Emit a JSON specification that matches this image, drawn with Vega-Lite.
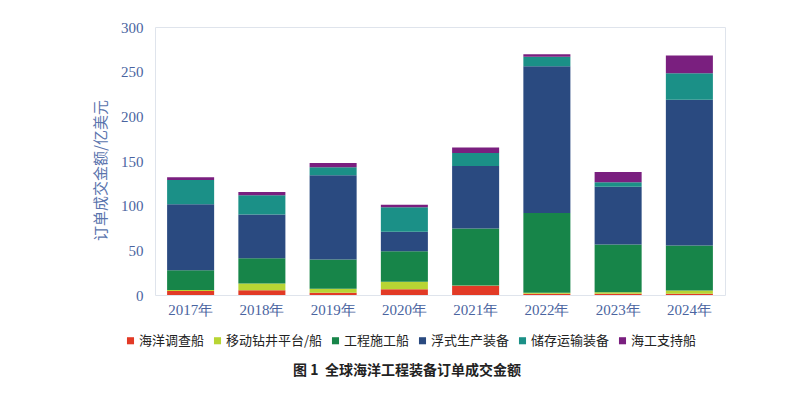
{
  "$schema": "https://vega.github.io/schema/vega-lite/v6.json",
  "width": 570,
  "height": 268,
  "autosize": {"type": "none"},
  "padding": {"left": 155, "top": 27, "right": 82, "bottom": 102},
  "background": "white",
  "config": {
    "view": {"stroke": "#dfe4ec", "strokeWidth": 1},
    "font": "Noto Sans CJK SC"
  },
  "title": {
    "text": "图 1\u00a0\u00a0全球海洋工程装备订单成交金额",
    "orient": "bottom",
    "anchor": "middle",
    "offset": 16,
    "dx": -33,
    "fontSize": 14,
    "fontWeight": "bold",
    "font": "Noto Sans CJK SC",
    "color": "#222222"
  },
  "data": {
    "values": [
      {"year": "2017年", "type": "海洋调查船", "k": 1, "v": 4.5},
      {"year": "2017年", "type": "移动钻井平台/船", "k": 2, "v": 1.2},
      {"year": "2017年", "type": "工程施工船", "k": 3, "v": 22},
      {"year": "2017年", "type": "浮式生产装备", "k": 4, "v": 74},
      {"year": "2017年", "type": "储存运输装备", "k": 5, "v": 27},
      {"year": "2017年", "type": "海工支持船", "k": 6, "v": 3},
      {"year": "2018年", "type": "海洋调查船", "k": 1, "v": 5.2},
      {"year": "2018年", "type": "移动钻井平台/船", "k": 2, "v": 7.8},
      {"year": "2018年", "type": "工程施工船", "k": 3, "v": 28},
      {"year": "2018年", "type": "浮式生产装备", "k": 4, "v": 49},
      {"year": "2018年", "type": "储存运输装备", "k": 5, "v": 21.6},
      {"year": "2018年", "type": "海工支持船", "k": 6, "v": 3.7},
      {"year": "2019年", "type": "海洋调查船", "k": 1, "v": 2.6},
      {"year": "2019年", "type": "移动钻井平台/船", "k": 2, "v": 4.5},
      {"year": "2019年", "type": "工程施工船", "k": 3, "v": 32.5},
      {"year": "2019年", "type": "浮式生产装备", "k": 4, "v": 94.4},
      {"year": "2019年", "type": "储存运输装备", "k": 5, "v": 9},
      {"year": "2019年", "type": "海工支持船", "k": 6, "v": 4.9},
      {"year": "2020年", "type": "海洋调查船", "k": 1, "v": 6.3},
      {"year": "2020年", "type": "移动钻井平台/船", "k": 2, "v": 8.6},
      {"year": "2020年", "type": "工程施工船", "k": 3, "v": 34},
      {"year": "2020年", "type": "浮式生产装备", "k": 4, "v": 22},
      {"year": "2020年", "type": "储存运输装备", "k": 5, "v": 27.2},
      {"year": "2020年", "type": "海工支持船", "k": 6, "v": 3},
      {"year": "2021年", "type": "海洋调查船", "k": 1, "v": 10.4},
      {"year": "2021年", "type": "移动钻井平台/船", "k": 2, "v": 0.3},
      {"year": "2021年", "type": "工程施工船", "k": 3, "v": 63.8},
      {"year": "2021年", "type": "浮式生产装备", "k": 4, "v": 69.8},
      {"year": "2021年", "type": "储存运输装备", "k": 5, "v": 14.6},
      {"year": "2021年", "type": "海工支持船", "k": 6, "v": 6.3},
      {"year": "2022年", "type": "海洋调查船", "k": 1, "v": 1.5},
      {"year": "2022年", "type": "移动钻井平台/船", "k": 2, "v": 1.1},
      {"year": "2022年", "type": "工程施工船", "k": 3, "v": 89.2},
      {"year": "2022年", "type": "浮式生产装备", "k": 4, "v": 164.2},
      {"year": "2022年", "type": "储存运输装备", "k": 5, "v": 10.8},
      {"year": "2022年", "type": "海工支持船", "k": 6, "v": 2.6},
      {"year": "2023年", "type": "海洋调查船", "k": 1, "v": 1.5},
      {"year": "2023年", "type": "移动钻井平台/船", "k": 2, "v": 1.5},
      {"year": "2023年", "type": "工程施工船", "k": 3, "v": 53.4},
      {"year": "2023年", "type": "浮式生产装备", "k": 4, "v": 64.9},
      {"year": "2023年", "type": "储存运输装备", "k": 5, "v": 4.9},
      {"year": "2023年", "type": "海工支持船", "k": 6, "v": 11.6},
      {"year": "2024年", "type": "海洋调查船", "k": 1, "v": 1.5},
      {"year": "2024年", "type": "移动钻井平台/船", "k": 2, "v": 3.4},
      {"year": "2024年", "type": "工程施工船", "k": 3, "v": 50.4},
      {"year": "2024年", "type": "浮式生产装备", "k": 4, "v": 163.4},
      {"year": "2024年", "type": "储存运输装备", "k": 5, "v": 29.5},
      {"year": "2024年", "type": "海工支持船", "k": 6, "v": 19.8}
    ]
  },
  "mark": {"type": "bar"},
  "encoding": {
    "x": {
      "field": "year",
      "type": "nominal",
      "sort": null,
      "scale": {"paddingInner": 0.34, "paddingOuter": 0.17},
      "axis": {
        "title": null,
        "labelAngle": 0,
        "labelFont": "Liberation Serif",
        "labelFontSize": 15,
        "labelColor": "#4a64a0",
        "labelPadding": 7,
        "ticks": false,
        "domain": false,
        "grid": false
      }
    },
    "y": {
      "field": "v",
      "type": "quantitative",
      "stack": "zero",
      "scale": {"domain": [0, 300], "nice": false},
      "axis": {
        "values": [0, 50, 100, 150, 200, 250, 300],
        "title": "订单成交金额/亿美元",
        "titleFont": "Noto Sans CJK SC",
        "titleFontWeight": "normal",
        "titleFontSize": 15,
        "titleColor": "#5a74ad",
        "titleX": -47,
        "titleY": 143,
        "labelFont": "Liberation Serif",
        "labelFontSize": 15,
        "labelColor": "#4a64a0",
        "labelPadding": 12,
        "ticks": false,
        "domain": false,
        "grid": false
      }
    },
    "color": {
      "field": "type",
      "type": "nominal",
      "sort": ["海洋调查船", "移动钻井平台/船", "工程施工船", "浮式生产装备", "储存运输装备", "海工支持船"],
      "scale": {
        "domain": ["海洋调查船", "移动钻井平台/船", "工程施工船", "浮式生产装备", "储存运输装备", "海工支持船"],
        "range": ["#e23a26", "#b8d534", "#178549", "#2a4a80", "#1b9087", "#7a1f7f"]
      },
      "legend": {
        "title": null,
        "orient": "none",
        "legendX": -31,
        "legendY": 307,
        "direction": "horizontal",
        "symbolType": "square",
        "symbolSize": 50,
        "symbolStrokeWidth": 0,
        "labelFont": "Noto Sans CJK SC",
        "labelFontSize": 13,
        "labelColor": "#222222",
        "labelOffset": 2,
        "columnPadding": 6,
        "labelLimit": 200
      }
    },
    "order": {"field": "k", "type": "quantitative"}
  }
}
